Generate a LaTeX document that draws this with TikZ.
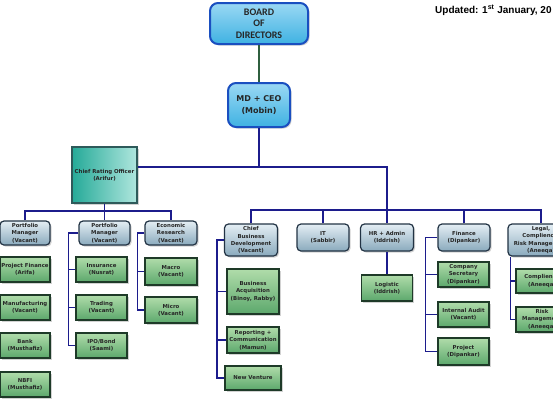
\documentclass[tikz,border=0pt]{standalone}
\usepackage{fontspec}
\setmainfont{DejaVu Sans}
\newfontfamily\arialfont{Liberation Sans}
\newfontfamily\calfont{Carlito}
\usetikzlibrary{shadows}
\definecolor{navyline}{HTML}{1C1C8C}
\definecolor{greenline}{HTML}{2F5F3F}
\definecolor{bluetop}{HTML}{9AD8F4}
\definecolor{bluebot}{HTML}{3FB2E2}
\definecolor{blueedge}{HTML}{1A4FC0}
\definecolor{tealL}{HTML}{25AA98}
\definecolor{tealR}{HTML}{B0E6DE}
\definecolor{tealedge}{HTML}{2E5A5A}
\definecolor{greytop}{HTML}{E4EEF4}
\definecolor{greybot}{HTML}{8AAABD}
\definecolor{greyedge}{HTML}{223344}
\definecolor{greentop}{HTML}{B0DCAA}
\definecolor{greenbot}{HTML}{5CA86C}
\definecolor{greenedge}{HTML}{1E3A28}
\tikzset{
  sz/.style 2 args={minimum width=#1pt, minimum height=#2pt},
  basebox/.style={align=center, inner sep=0pt, text=black!85,
    font=\bfseries\fontsize{5.4}{7.3}\selectfont,
    drop shadow={shadow xshift=1.5pt, shadow yshift=-1.5pt, opacity=.35}},
  greybox/.style={basebox, rounded corners=4pt, top color=greytop, bottom color=greybot,
    draw=greyedge, line width=1.2pt},
  greenbox/.style={basebox, top color=greentop, bottom color=greenbot,
    draw=greenedge, line width=1.2pt},
  topbox/.style={basebox, rounded corners=8pt, top color=bluetop, bottom color=bluebot,
    draw=blueedge, line width=2pt},
  crobox/.style={basebox, left color=tealL, right color=tealR, draw=tealedge, line width=1.6pt},
  conn/.style={draw=navyline, line width=1.3pt},
}
\begin{document}
\begin{tikzpicture}[x=1pt,y=-1pt]
\useasboundingbox[fill=white] (0,0) rectangle (553,400);

% top
\node[topbox, sz={98}{41}, font=\calfont\bfseries\fontsize{10}{11.7}\selectfont] (board) at (259,23.5) {BOARD\\OF\\DIRECTORS};
\node[topbox, sz={62}{44}, font=\bfseries\fontsize{8}{11.5}\selectfont] (md) at (259,105) {MD + CEO\\(Mobin)};
\node[anchor=base west, inner sep=0pt, font=\arialfont\bfseries\fontsize{10}{12}\selectfont] (upd) at (435,13.5) {Updated: 1\textsuperscript{st} January, 20};

\node[crobox, sz={65}{56}] (cro) at (104.5,175) {Chief Rating Officer\\(Arifur)};

% row 1
\node[greybox, sz={50}{24}] (pm1) at (25,233) {Portfolio\\Manager\\(Vacant)};
\node[greybox, sz={51}{24}] (pm2) at (104.5,233) {Portfolio\\Manager\\(Vacant)};
\node[greybox, sz={52}{24}] (er) at (171,233) {Economic\\Research\\(Vacant)};
\node[greybox, sz={53}{32}] (cbd) at (251,240) {Chief\\Business\\Development\\(Vacant)};
\node[greybox, sz={52}{27}] (it) at (323,237.5) {IT\\(Sabbir)};
\node[greybox, sz={53}{27}] (hr) at (387,237.5) {HR + Admin\\(Iddrish)};
\node[greybox, sz={52}{27}] (fin) at (464,237.5) {Finance\\(Dipankar)};
\node[greybox, sz={66}{32}] (legal) at (541,240) {Legal,\\Complience,\\Risk Management\\(Aneeqa)};

% PM1 children
\node[greenbox, sz={50}{25}] (pf) at (25,269.5) {Project Finance\\(Arifa)};
\node[greenbox, sz={50}{25}] (mfg) at (25,307.5) {Manufacturing\\(Vacant)};
\node[greenbox, sz={50}{25}] (bank) at (25,345.5) {Bank\\(Musthafiz)};
\node[greenbox, sz={50}{25}] (nbfi) at (25,384.5) {NBFI\\(Musthafiz)};

% PM2 children
\node[greenbox, sz={51}{25}] (ins) at (101.5,269.5) {Insurance\\(Nusrat)};
\node[greenbox, sz={51}{25}] (trd) at (101.5,307.5) {Trading\\(Vacant)};
\node[greenbox, sz={51}{25}] (ipo) at (101.5,345.5) {IPO/Bond\\(Saami)};

% ER children
\node[greenbox, sz={52}{27}] (macro) at (171,271.5) {Macro\\(Vacant)};
\node[greenbox, sz={52}{26}] (micro) at (171,310) {Micro\\(Vacant)};

% CBD children
\node[greenbox, sz={52}{45}] (ba) at (253,291.5) {Business\\Acquisition\\(Binoy, Rabby)};
\node[greenbox, sz={52}{26}] (rep) at (253,340) {Reporting +\\Communication\\(Mamun)};
\node[greenbox, sz={56}{24}] (nv) at (253,378) {New Venture};

% HR child
\node[greenbox, sz={51}{26}] (log) at (387,288) {Logistic\\(Iddrish)};

% Finance children
\node[greenbox, sz={51}{25}] (cs) at (463.5,274.5) {Company\\Secretary\\(Dipankar)};
\node[greenbox, sz={51}{25}] (ia) at (463.5,314.5) {Internal Audit\\(Vacant)};
\node[greenbox, sz={51}{27}] (proj) at (463.5,351.5) {Project\\(Dipankar)};

% Legal children
\node[greenbox, sz={52}{24}] (compl) at (542,281) {Complience\\(Aneeqa)};
\node[greenbox, sz={52}{25}] (risk) at (542,319.5) {Risk\\Management\\(Aneeqa)};

% connectors
\draw[conn, draw=greenline] (board) -- (md);
\coordinate (j1) at (259,167);
\draw[conn] (md.south) -- (j1);
\draw[conn] (cro.east |- j1) -- (j1) -| (hr.north);
\coordinate (j2) at (387,210);
\draw[conn] (cbd.north) |- (j2) -| (legal.north);
\draw[conn] (it.north) -- (it.north |- j2);
\draw[conn] (fin.north) -- (fin.north |- j2);
\draw[conn] (hr.south) -- (log.north);

\coordinate (j3) at (104.5,211);
\draw[conn] (cro.south) -- (j3);
\draw[conn] (pm1.north) |- (j3) -| (er.north);
\draw[conn] (j3) -- (pm2.north);

\path (pm2.west) ++(-10,0) coordinate (k2);
\draw[conn] (pm2.west) -- (k2) |- (ipo.west);
\draw[conn] (k2 |- ins.west) -- (ins.west);
\draw[conn] (k2 |- trd.west) -- (trd.west);

\path (er.west) ++(-7,0) coordinate (k3);
\draw[conn] (er.west) -- (k3) |- (micro.west);
\draw[conn] (k3 |- macro.west) -- (macro.west);

\path (cbd.west) ++(-7,0) coordinate (k4);
\draw[conn] (cbd.west) -- (k4) |- (nv.west);
\draw[conn] (k4 |- ba.west) -- (ba.west);
\draw[conn] (k4 |- rep.west) -- (rep.west);

\path (fin.west) ++(-12,0) coordinate (k5);
\draw[conn] (fin.west) -- (k5) |- (proj.west);
\draw[conn] (k5 |- cs.west) -- (cs.west);
\draw[conn] (k5 |- ia.west) -- (ia.west);

\path (legal.south west) ++(3,0) coordinate (k6);
\draw[conn] (k6) |- (risk.west);
\draw[conn] (k6 |- compl.west) -- (compl.west);
\end{tikzpicture}
\end{document}
